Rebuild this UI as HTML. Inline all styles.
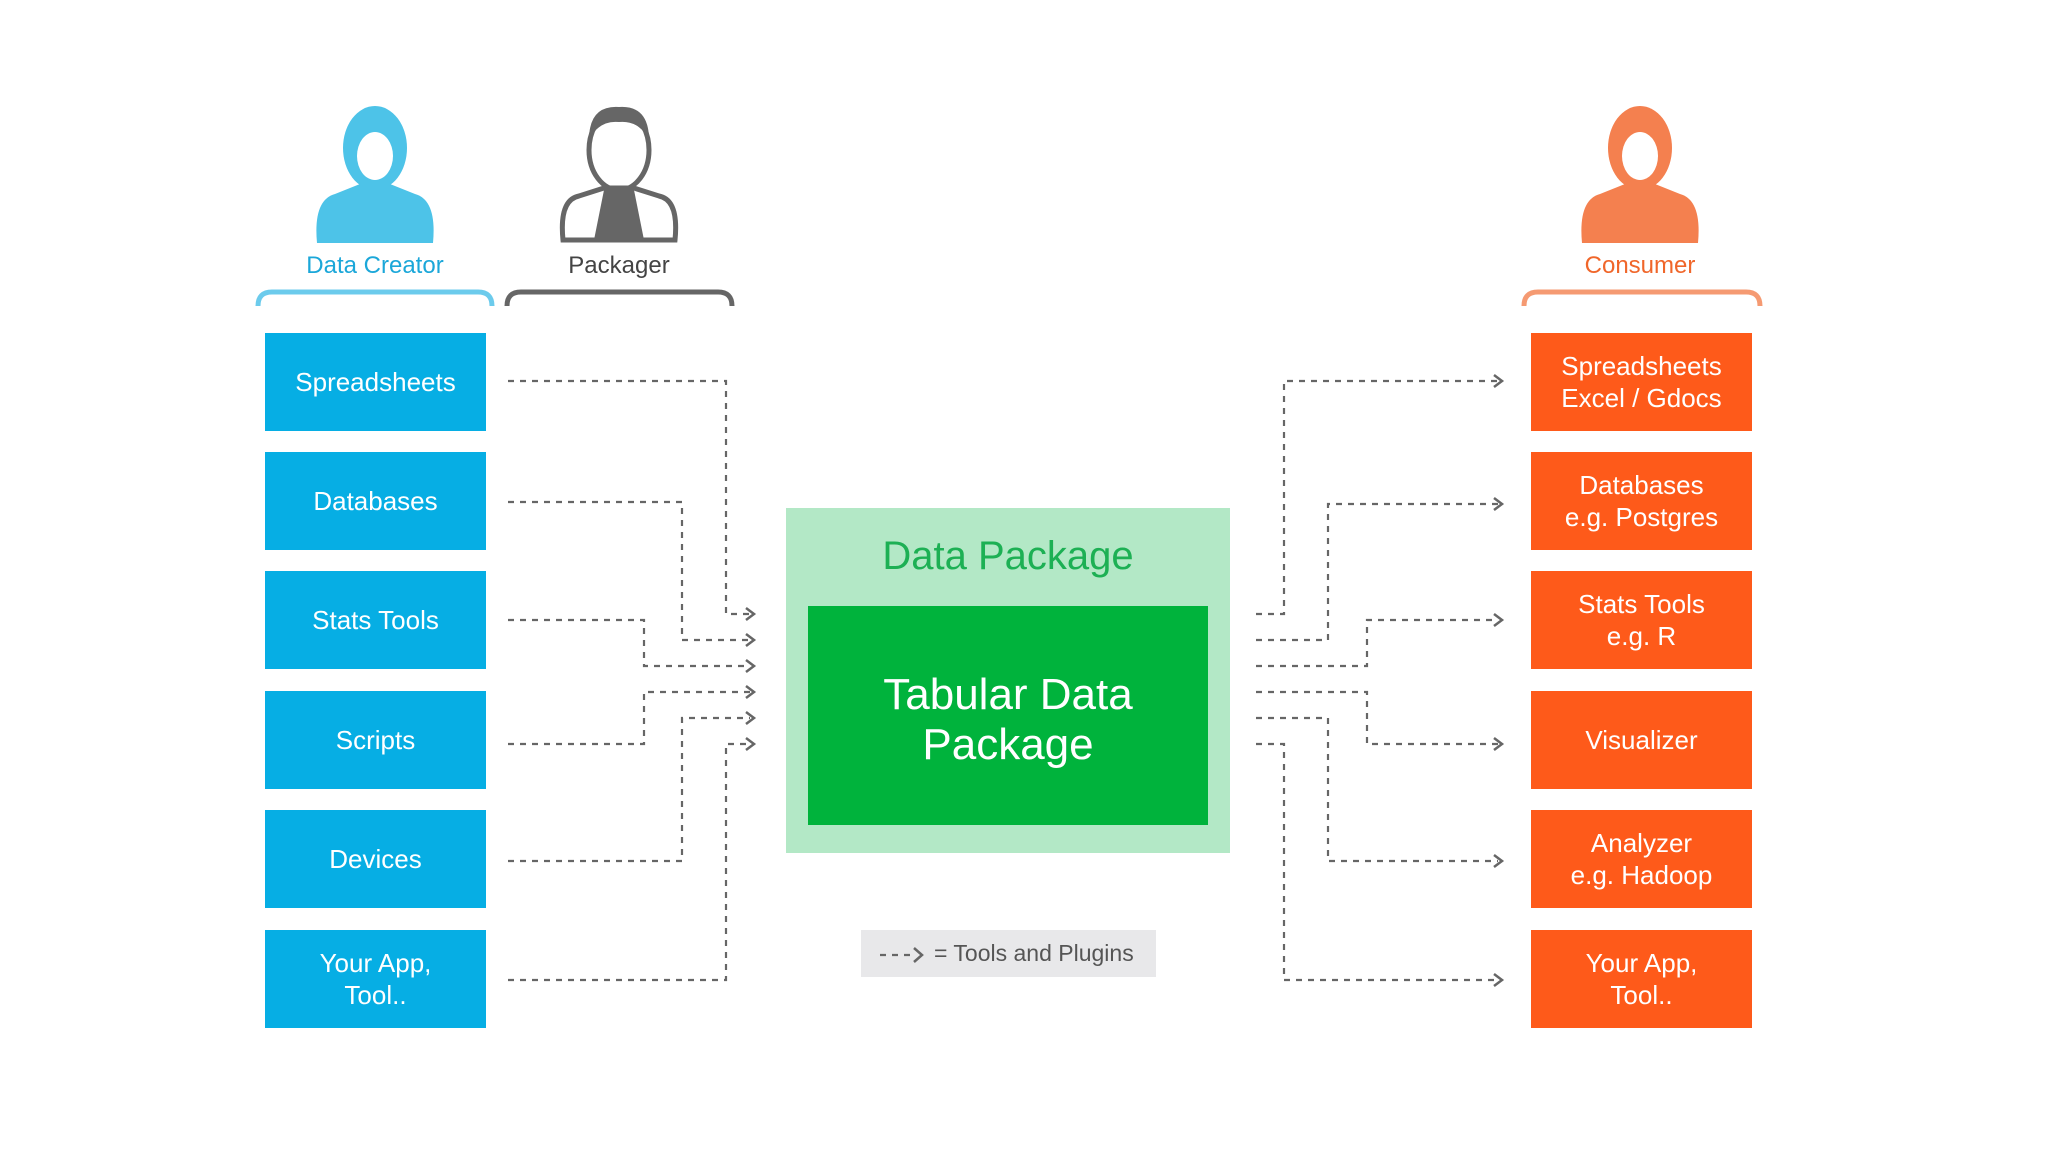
<!DOCTYPE html>
<html><head><meta charset="utf-8"><style>
html,body{margin:0;padding:0;background:#fff;}
body{width:2048px;height:1152px;position:relative;overflow:hidden;font-family:"Liberation Sans",sans-serif;}
.b{position:absolute;width:221px;height:98px;color:#fff;font-size:26px;display:flex;align-items:center;justify-content:center;text-align:center;line-height:32px;}
.l{left:265px;background:#06aee4;}
.r{left:1531px;background:#fe5a1a;}
.lab{position:absolute;font-size:24px;text-align:center;width:240px;}
</style></head><body>
<svg width="2048" height="1152" style="position:absolute;left:0;top:0">
<defs>
<g id="p">
<ellipse cx="0" cy="0" rx="32" ry="42"/>
<path d="M-58 95 Q-62 52 -40 46 L-15 36 L15 36 L40 46 Q62 52 58 95 Z"/>
</g>
</defs>
<g fill="#4dc3e8" transform="translate(375,148)"><use href="#p"/></g>
<g fill="#fff" transform="translate(375,148)"><ellipse cx="0" cy="8" rx="18" ry="24"/></g>
<g transform="translate(619,150)"><ellipse cx="0" cy="0" rx="30" ry="40" fill="#fff" stroke="#666" stroke-width="5"/><path d="M-30 -10 Q-30 -45 0 -43 Q30 -45 30 -10 Q20 -30 0 -28 Q-20 -30 -30 -10Z" fill="#666"/><path d="M-56 90 Q-60 50 -40 46 L-15 38 L15 38 L40 46 Q60 50 56 90 Z" fill="#fff" stroke="#666" stroke-width="5"/><path d="M-15 40 L15 40 L25 90 L-25 90Z" fill="#666"/></g>
<g fill="#f4804f" transform="translate(1640,148)"><use href="#p"/></g>
<g fill="#fff" transform="translate(1640,148)"><ellipse cx="0" cy="8" rx="18" ry="24"/></g>
<path d="M258 306 Q258 292 272 292 L478 292 Q492 292 492 306" fill="none" stroke="#6ccbec" stroke-width="5"/>
<path d="M507 306 Q507 292 521 292 L718 292 Q732 292 732 306" fill="none" stroke="#666" stroke-width="5"/>
<path d="M1524 306 Q1524 292 1538 292 L1746 292 Q1760 292 1760 306" fill="none" stroke="#f59a72" stroke-width="5"/>
<rect x="786" y="508" width="444" height="345" fill="#b3e8c6"/>
<rect x="808" y="606" width="400" height="219" fill="#00b33c"/>
<rect x="861" y="930" width="295" height="47" fill="#e8e8ea"/>
<g fill="none" stroke="#666" stroke-width="2.2" stroke-dasharray="6 6">
<path d="M508 381 H726 V614 H750"/>
<path d="M508 502 H682 V640 H750"/>
<path d="M508 620 H644 V666 H750"/>
<path d="M508 744 H644 V692 H750"/>
<path d="M508 861 H682 V718 H750"/>
<path d="M508 980 H726 V744 H750"/>
<path d="M1256 614 H1284 V381 H1498"/>
<path d="M1256 640 H1328 V504 H1498"/>
<path d="M1256 666 H1367 V620 H1498"/>
<path d="M1256 692 H1367 V744 H1498"/>
<path d="M1256 718 H1328 V861 H1498"/>
<path d="M1256 744 H1284 V980 H1498"/>
<path d="M880 955 H912"/>
</g>
<g fill="none" stroke="#666" stroke-width="2.5">
<path d="M746 608 L754 614 L746 620"/><path d="M746 634 L754 640 L746 646"/><path d="M746 660 L754 666 L746 672"/><path d="M746 686 L754 692 L746 698"/><path d="M746 712 L754 718 L746 724"/><path d="M746 738 L754 744 L746 750"/>
<path d="M1494 375 L1502 381 L1494 387"/><path d="M1494 498 L1502 504 L1494 510"/><path d="M1494 614 L1502 620 L1494 626"/><path d="M1494 738 L1502 744 L1494 750"/><path d="M1494 855 L1502 861 L1494 867"/><path d="M1494 974 L1502 980 L1494 986"/>
<path d="M914 948 L922 955 L914 962"/>
</g>
</svg>
<div class="lab" style="left:255px;top:252px;color:#1ba7d9">Data Creator</div>
<div class="lab" style="left:499px;top:252px;color:#444">Packager</div>
<div class="lab" style="left:1520px;top:252px;color:#f0662a">Consumer</div>
<div class="b l" style="top:333px">Spreadsheets</div>
<div class="b l" style="top:452px">Databases</div>
<div class="b l" style="top:571px">Stats Tools</div>
<div class="b l" style="top:691px">Scripts</div>
<div class="b l" style="top:810px">Devices</div>
<div class="b l" style="top:930px">Your App,<br>Tool..</div>
<div class="b r" style="top:333px">Spreadsheets<br>Excel / Gdocs</div>
<div class="b r" style="top:452px">Databases<br>e.g. Postgres</div>
<div class="b r" style="top:571px">Stats Tools<br>e.g. R</div>
<div class="b r" style="top:691px">Visualizer</div>
<div class="b r" style="top:810px">Analyzer<br>e.g. Hadoop</div>
<div class="b r" style="top:930px">Your App,<br>Tool..</div>
<div style="position:absolute;left:786px;width:444px;top:534px;text-align:center;color:#1db054;font-size:40px">Data Package</div>
<div style="position:absolute;left:808px;width:400px;top:670px;text-align:center;color:#fff;font-size:44px;line-height:50px">Tabular Data<br>Package</div>
<div style="position:absolute;left:934px;top:940px;color:#555;font-size:23px">= Tools and Plugins</div>
</body></html>
